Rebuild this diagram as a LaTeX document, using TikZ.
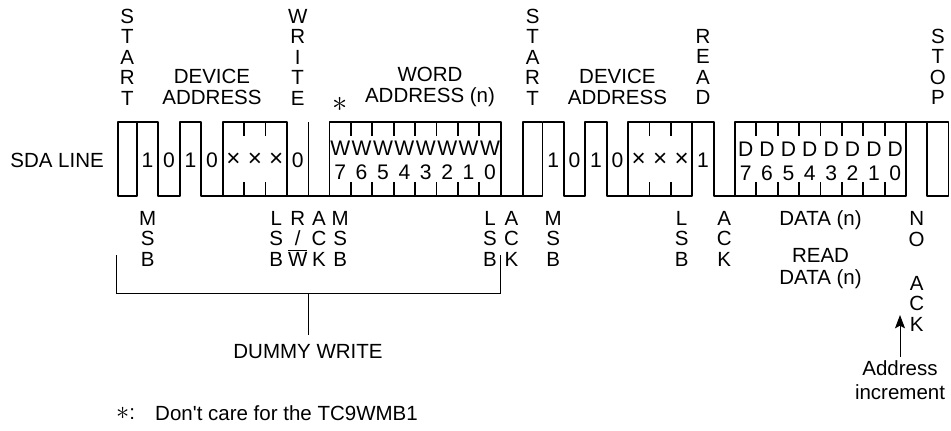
\documentclass[tikz,border=0pt]{standalone}
\usepackage{fontspec}
\setmainfont{Liberation Sans}
\usetikzlibrary{arrows.meta}
\newcommand{\lab}{\fontsize{17.5}{17.5}\selectfont}
\newcommand{\bitsz}{\fontsize{18}{18}\selectfont}
\newcommand{\xbit}{\scalebox{1.15}{×}}
\newcommand{\sdahi}{122}
\newcommand{\sdalo}{196}
\newcommand{\ticklen}{14}
\tikzset{
 every node/.append style={font=\lab,align=center,inner sep=0pt},
 wave/.style={draw=black,line width=.55mm,line join=round},
 rule/.style={draw=black,line width=.3mm},
 bit/.style={font=\bitsz},
 incr/.style={-{Stealth[length=4mm,width=3mm,inset=.8mm]},draw=black,line width=.3mm},
}
\newcommand{\bitbox}[3]{% left, right, number of cells
 \draw[wave] (#1,\sdahi) rectangle (#2,\sdalo);
 \pgfmathtruncatemacro{\ncut}{#3-1}
 \foreach \k in {1,...,\ncut}{
  \draw[wave] ({#1+\k*(#2-#1)/#3},\sdahi) -- ++(0,\ticklen);
  \draw[wave] ({#1+\k*(#2-#1)/#3},\sdalo) -- ++(0,-\ticklen);
 }
}
\begin{document}
\begin{tikzpicture}[x=.3mm,y=-.3mm]

\useasboundingbox (0,0) rectangle (951,430);
% dummy write frame
\draw[wave] (117.7,\sdahi) rectangle (136.9,\sdalo);
\draw[wave] (136.9,\sdahi) -- (158.3,\sdahi) -- (158.3,\sdalo) -- (179.8,\sdalo) -- (179.8,\sdahi) -- (201.2,\sdahi) -- (201.2,\sdalo) -- (329.5,\sdalo);
\bitbox{222.7}{287.0}{3}
\draw[wave] (308.5,\sdahi) -- (308.5,\sdalo);
\bitbox{329.5}{500.7}{8}
\draw[wave] (500.7,\sdalo) -- (522.7,\sdalo);
% read frame
\draw[wave] (522.7,\sdahi) rectangle (542.5,\sdalo);
\draw[wave] (542.5,\sdahi) -- (563.9,\sdahi) -- (563.9,\sdalo) -- (585.3,\sdalo) -- (585.3,\sdahi) -- (606.7,\sdahi) -- (606.7,\sdalo) -- (628.1,\sdalo);
\bitbox{628.1}{692.2}{3}
\draw[wave] (692.2,\sdahi) -- (713.6,\sdahi) -- (713.6,\sdalo) -- (735,\sdalo);
\bitbox{735}{906}{8}
\draw[wave] (906,\sdahi) -- (927.4,\sdahi);
\draw[wave] (927.4,\sdahi) rectangle (948.5,\sdalo);

% bit values
\foreach \x/\v [count=\i] in {147.6/1,169/0,190.5/1,212/0,233.4/\xbit,254.9/\xbit,276.3/\xbit,297.7/0,553.2/1,574.6/0,596/1,617.4/0,638.8/\xbit,660.2/\xbit,681.6/\xbit,703/1}
 \node[bit] (b\i) at (\x,160) {\v};
\foreach \k in {0,...,7}{
 \pgfmathtruncatemacro{\bn}{7-\k}
 \node[bit] (w\bn) at ({340.2+\k*21.4},148) {W};
 \node[bit] (wn\bn) at ({340.2+\k*21.4},172) {\bn};
 \node[bit] (d\bn) at ({745.7+\k*21.375},149) {D};
 \node[bit] (dn\bn) at ({745.7+\k*21.375},173) {\bn};
}

% labels above
\node[anchor=east] (sda) at (104,160) {SDA LINE};
\node (start1) at (127.3,57) {S\\T\\A\\R\\T};
\node (dev1) at (212,87) {DEVICE\\ADDRESS};
\node (write) at (297.7,57) {W\\R\\I\\T\\E};
\node (star) at (340,104) {\scalebox{1.5}{$\ast$}};
\node (word) at (430,87) {WORD\\ADDRESS (n)};
\node (start2) at (532.6,57) {S\\T\\A\\R\\T};
\node (dev2) at (617.4,87) {DEVICE\\ADDRESS};
\node (read) at (703,67) {R\\E\\A\\D};
\node (stop) at (937.9,67) {S\\T\\O\\P};

% labels below
\node (msb1) at (147.6,238.5) {M\\S\\B};
\node (lsb1) at (276.3,238.5) {L\\S\\B};
\node (rw) at (297.7,238.5) {R\\/\\$\overline{\mbox{W}}$};
\node (ack1) at (318.9,238.5) {A\\C\\K};
\node (msb2) at (340.2,238.5) {M\\S\\B};
\node (lsb2) at (490,238.5) {L\\S\\B};
\node (ack2) at (511.5,238.5) {A\\C\\K};
\node (msb3) at (553.2,238.5) {M\\S\\B};
\node (lsb3) at (681.6,238.5) {L\\S\\B};
\node (ack3) at (724.3,238.5) {A\\C\\K};
\node (data) at (820.5,220) {DATA (n)};
\node (rdata) at (820.5,268.5) {READ\\[1pt]DATA (n)};
\node (noack) at (916.7,271.5) {N\\O\\[20pt]A\\C\\K};
\node (addr) at (900,380) {Address\\[3pt]increment};
\coordinate (inc) at (900,315);
\draw[incr,shorten <=1mm] (addr.north) -- (inc);

% dummy write bracket
\node (dummy) at (308,352) {DUMMY WRITE};
\coordinate (bl) at (116,255);
\coordinate (br) at (500,255);
\coordinate (bm) at (308,293);
\draw[rule] (bl) -- (bl |- bm) -- (br |- bm) -- (br);
\draw[rule,shorten >=2.8mm] (bm) -- (dummy.north);

\node[anchor=west] (fnmark) at (116,413) {\scalebox{1.3}{$\ast$}:};
\node[anchor=west] (fntext) at (155,413) {Don\textquotesingle t care for the TC9WMB1};

\end{tikzpicture}
\end{document}
